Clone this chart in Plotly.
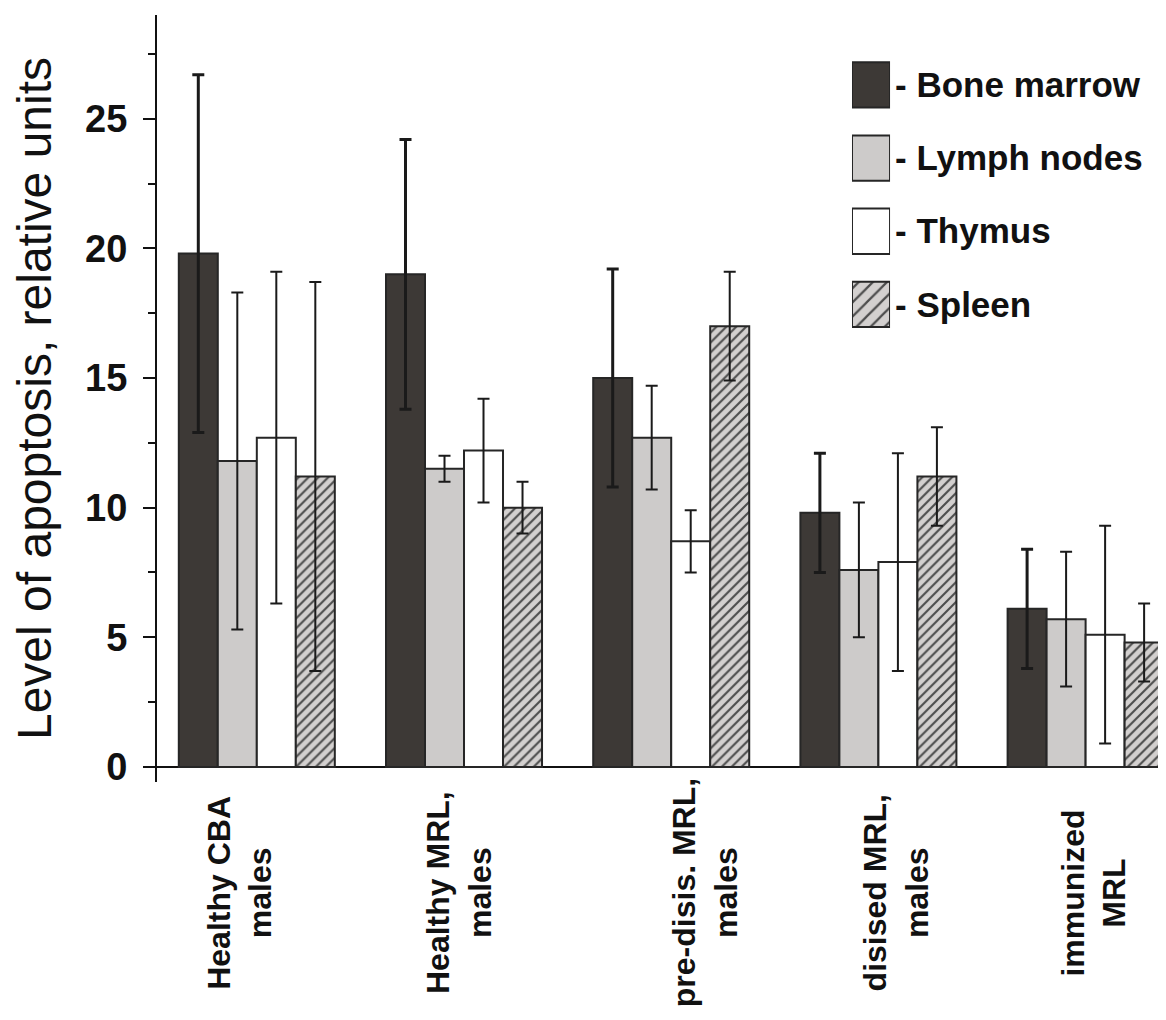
import plotly.graph_objects as go

# ---------------- data ----------------
groups = ["Healthy CBA<br>males", "Healthy MRL,<br>males", "pre-disis. MRL,<br>males",
          "disised MRL,<br>males", "immunized<br>MRL"]
series = ["Bone marrow", "Lymph nodes", "Thymus", "Spleen"]

bone_marrow = [19.8, 19.0, 15.0, 9.8, 6.1]
bone_marrow_err = [6.9, 5.2, 4.2, 2.3, 2.3]
lymph_nodes = [11.8, 11.5, 12.7, 7.6, 5.7]
lymph_nodes_err = [6.5, 0.5, 2.0, 2.6, 2.6]
thymus = [12.7, 12.2, 8.7, 7.9, 5.1]
thymus_err = [6.4, 2.0, 1.2, 4.2, 4.2]
spleen = [11.2, 10.0, 17.0, 11.2, 4.8]
spleen_err = [7.5, 1.0, 2.1, 1.9, 1.5]

y_tick_vals = [0, 5, 10, 15, 20, 25]
y_title = "Level of apoptosis, relative units"

# ---------------- styles ----------------
FONT = "Liberation Sans, Arial, sans-serif"
values = [bone_marrow, lymph_nodes, thymus, spleen]
errors = [bone_marrow_err, lymph_nodes_err, thymus_err, spleen_err]
fills = ["#3d3936", "#cdcbca", "#ffffff", "#d3d0cf"]
patterns = ["", "", "", "/"]
err_thick = [3, 2, 2, 2]
outline = "#262626"
label_xshift = [-17, -5, 34, 18, 8]

fig = go.Figure()
for name, vals, errs, col, pat, et in zip(series, values, errors, fills, patterns, err_thick):
    fig.add_trace(go.Bar(
        x=groups, y=vals, name=name,
        marker=dict(color=col, line=dict(color=outline, width=2),
                    pattern=dict(shape=pat, fgcolor="#4d4d4d", bgcolor=col,
                                 size=7, solidity=0.3, fillmode="replace")),
        error_y=dict(type="data", array=errs, visible=True, color="#1a1a1a",
                     thickness=et, width=6),
        showlegend=False,
    ))

# legend drawn as small horizontal bars on auxiliary axes (keeps hatch pattern)
for name, col, pat in zip(series, fills, patterns):
    fig.add_trace(go.Bar(
        x=[1], y=[name], orientation="h", xaxis="x2", yaxis="y2",
        width=0.62, offsetgroup="legend",
        marker=dict(color=col, line=dict(color=outline, width=2),
                    pattern=dict(shape=pat, fgcolor="#4d4d4d", bgcolor=col,
                                 size=10, solidity=0.22, fillmode="replace")),
        showlegend=False, hoverinfo="skip",
    ))

# category labels, rotated
for g, dx in zip(groups, label_xshift):
    fig.add_annotation(
        x=g, xref="x", y=-0.1447, yref="paper", text=g, textangle=-90,
        showarrow=False, xanchor="center", yanchor="middle", align="center",
        xshift=dx, font=dict(family=FONT, size=32, color="#111", weight="bold"),
    )

fig.update_layout(
    width=1158, height=1012,
    margin=dict(l=149, r=0, t=7, b=238),
    paper_bgcolor="white", plot_bgcolor="white",
    barmode="group", bargap=0.247, bargroupgap=0,
    showlegend=False,
    xaxis=dict(type="category", range=[-0.4817, 4.388], showticklabels=False,
               showline=False, showgrid=False, ticks="", zeroline=False),
    yaxis=dict(range=[-0.58, 29], tickvals=y_tick_vals, showgrid=False,
               zeroline=True, zerolinecolor="#111", zerolinewidth=2,
               showline=True, linecolor="#111", linewidth=2,
               ticks="outside", ticklen=12, tickwidth=2, tickcolor="#111",
               ticklabelstandoff=8,
               minor=dict(dtick=2.5, ticks="outside", ticklen=7, tickwidth=2,
                          tickcolor="#111", showgrid=False),
               tickfont=dict(family=FONT, size=38, color="#111", weight="bold"),
               title=dict(text=y_title, standoff=26,
                          font=dict(family=FONT, size=48, color="#111"))),
    xaxis2=dict(domain=[0.6888, 0.7265], range=[0, 1], visible=False, anchor="y2"),
    yaxis2=dict(domain=[0.575, 0.9565], anchor="x2", side="right",
                autorange="reversed", showgrid=False, showline=False,
                zeroline=False, ticks="", tickvals=series,
                categoryorder="array", categoryarray=series,
                ticktext=["- " + s for s in series], ticklabelstandoff=4,
                tickfont=dict(family=FONT, size=35, color="#111", weight="bold")),
)

fig.write_html("out.html")
